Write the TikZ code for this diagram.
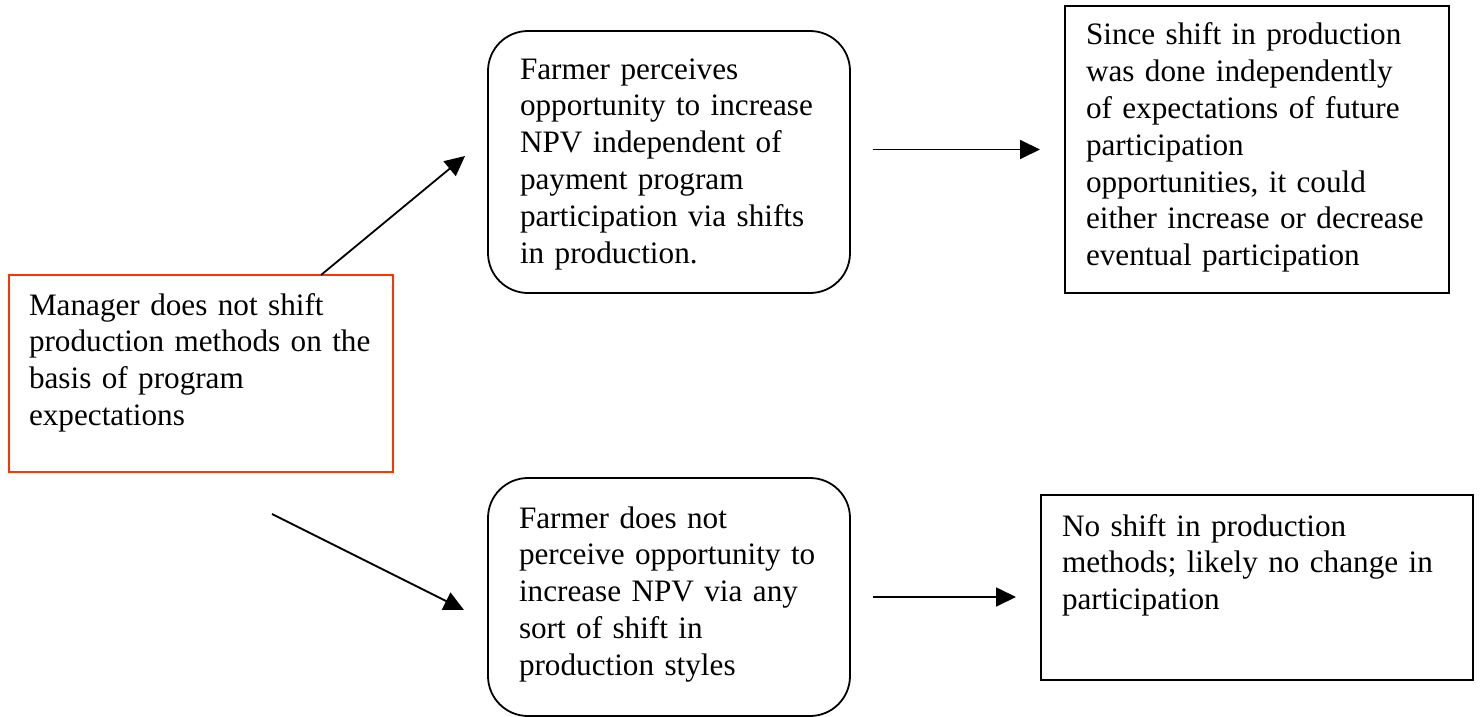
\documentclass[tikz,border=0pt]{standalone}
\usepackage{fontspec}
\setmainfont{Liberation Serif}
\usetikzlibrary{arrows.meta}
\definecolor{mgrred}{RGB}{255,51,0}

\begin{document}
\begin{tikzpicture}[x=1pt, y=-1pt,
    sqbox/.style={draw, line width=1.8pt, rectangle, anchor=north west, outer sep=0pt,
        inner ysep=0pt, font=\fontsize{31.2}{36.8}\selectfont},
    rndbox/.style={sqbox, rounded corners=40pt},
    arr/.style={-{Triangle[length=20pt,width=19pt]}, line width=1.8pt}]

    \useasboundingbox (0,0) rectangle (1480,717);

    % Starting point
    \node[sqbox, draw=mgrred, inner xsep=20pt, text width=344pt, text height=40pt, text depth=157pt]
        (mgr) at (9,275) {Manager does not shift\\ production methods on the\\ basis of program\\ expectations};

    % Perceptions
    \node[rndbox, inner xsep=32pt, text width=298pt, text height=48pt, text depth=214pt]
        (perc) at (488,31) {Farmer perceives\\ opportunity to increase\\ NPV independent of\\ payment program\\ participation via shifts\\ in production.};
    \node[rndbox, inner xsep=31pt, text width=300pt, text height=50pt, text depth=188pt]
        (noperc) at (488,478) {Farmer does not\\ perceive opportunity to\\ increase NPV via any\\ sort of shift in\\ production styles};

    % Outcomes
    \node[sqbox, inner xsep=21pt, text width=342pt, text height=39pt, text depth=248pt]
        (since) at (1065,6) {Since shift in production\\ was done independently\\ of expectations of future\\ participation\\ opportunities, it could\\ either increase or decrease\\ eventual participation};
    \node[sqbox, inner xsep=21pt, text width=390pt, text height=41pt, text depth=144pt]
        (noshift) at (1041,495) {No shift in production\\ methods; likely no change in\\ participation};

    % Arrows
    \draw[arr] ([xshift=-72pt]mgr.north east) -- ([xshift=-23pt,yshift=6pt]perc.west);
    \draw[arr] ([xshift=-121pt,yshift=-42pt]mgr.south east) -- ([xshift=-24pt,yshift=-13pt]noperc.west);
    \draw[arr, shorten <=23pt, shorten >=25pt] (perc.east |- since.west) -- (since.west);
    \draw[arr, shorten <=23pt, shorten >=25pt] (noperc.east) -- (noperc.east -| noshift.west);

\end{tikzpicture}
\end{document}
